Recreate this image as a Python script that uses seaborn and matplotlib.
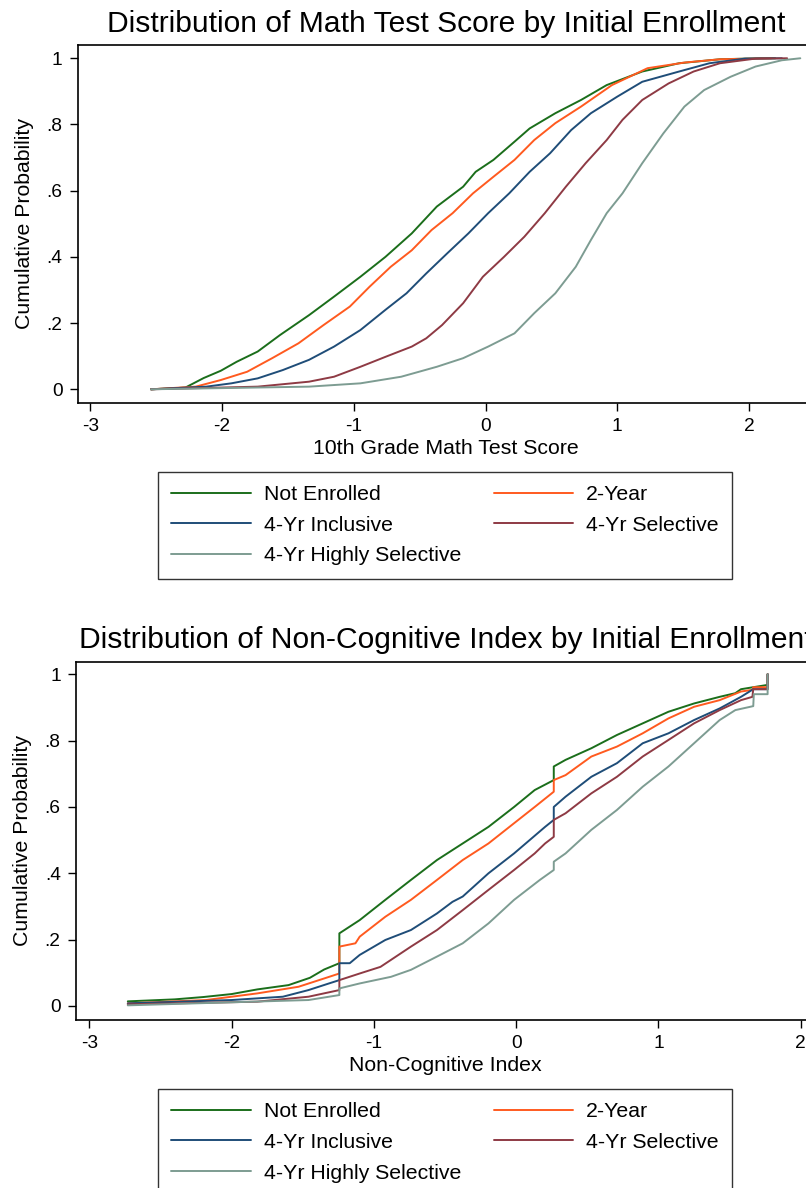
import matplotlib
matplotlib.use("Agg")
import matplotlib.pyplot as plt
import seaborn as sns

# ---- Math test score ECDFs (x = score, y = cumulative probability) ----
math_x_not_enrolled = [-2.54, -2.28, -2.14, -2.01, -1.89, -1.73, -1.56, -1.34, -1.15, -0.95, -0.76,
                       -0.56, -0.37, -0.17, -0.075, 0.06, 0.22, 0.335, 0.53, 0.725, 0.92, 1.19,
                       1.47, 1.78, 2.09, 2.2]
math_y_not_enrolled = [0, 0.005, 0.034, 0.056, 0.083, 0.114, 0.164, 0.224, 0.280, 0.340, 0.40,
                       0.471, 0.552, 0.612, 0.657, 0.693, 0.748, 0.788, 0.834, 0.874, 0.919, 0.96,
                       0.985, 0.997, 1.0, 1.0]
math_x_two_year = [-2.54, -2.20, -2.01, -1.81, -1.62, -1.42, -1.23, -1.03, -0.88, -0.72, -0.56,
                   -0.41, -0.25, -0.095, 0.06, 0.22, 0.37, 0.53, 0.725, 0.96, 1.23, 1.51, 1.78, 2.17]
math_y_two_year = [0, 0.008, 0.028, 0.053, 0.094, 0.139, 0.194, 0.25, 0.31, 0.37, 0.42,
                   0.481, 0.532, 0.592, 0.642, 0.693, 0.753, 0.804, 0.854, 0.919, 0.97, 0.987, 0.997, 1.0]
math_x_inclusive = [-2.54, -2.12, -1.93, -1.73, -1.54, -1.34, -1.15, -0.95, -0.76, -0.60, -0.45,
                    -0.29, -0.13, 0.02, 0.18, 0.335, 0.49, 0.65, 0.80, 1.0, 1.19, 1.47, 1.70, 1.97, 2.25]
math_y_inclusive = [0, 0.008, 0.018, 0.033, 0.058, 0.089, 0.129, 0.179, 0.24, 0.29, 0.35,
                    0.411, 0.471, 0.532, 0.592, 0.657, 0.713, 0.783, 0.834, 0.884, 0.929, 0.96, 0.985, 0.999, 1.0]
math_x_selective = [-2.54, -1.73, -1.34, -1.15, -0.95, -0.76, -0.56, -0.45, -0.33, -0.17, -0.02,
                    0.14, 0.295, 0.45, 0.61, 0.76, 0.92, 1.04, 1.19, 1.39, 1.58, 1.78, 2.05, 2.29]
math_y_selective = [0, 0.008, 0.023, 0.038, 0.068, 0.098, 0.129, 0.154, 0.194, 0.26, 0.34,
                    0.40, 0.461, 0.532, 0.612, 0.683, 0.753, 0.814, 0.874, 0.924, 0.96, 0.985, 0.999, 1.0]
math_x_highly = [-2.54, -1.34, -0.95, -0.64, -0.37, -0.17, 0.02, 0.22, 0.37, 0.53, 0.685,
                 0.80, 0.92, 1.04, 1.19, 1.35, 1.51, 1.66, 1.86, 2.05, 2.25, 2.39]
math_y_highly = [0, 0.008, 0.018, 0.038, 0.068, 0.094, 0.129, 0.169, 0.23, 0.29, 0.37,
                 0.451, 0.532, 0.592, 0.683, 0.773, 0.854, 0.904, 0.944, 0.975, 0.994, 1.0]

# ---- Non-cognitive index ECDFs ----
noncog_x_not_enrolled = [-2.73, -2.4, -2.2, -2.0, -1.82, -1.6, -1.45, -1.35, -1.243, -1.243, -1.10,
                         -0.92, -0.74, -0.557, -0.376, -0.195, -0.015, 0.13, 0.264, 0.264, 0.347,
                         0.528, 0.708, 0.889, 1.07, 1.25, 1.43, 1.54, 1.58, 1.666, 1.767, 1.767]
noncog_y_not_enrolled = [0.014, 0.02, 0.027, 0.036, 0.05, 0.063, 0.085, 0.11, 0.129, 0.219, 0.259,
                         0.32, 0.38, 0.44, 0.49, 0.54, 0.60, 0.651, 0.681, 0.722, 0.742,
                         0.777, 0.817, 0.852, 0.887, 0.912, 0.932, 0.943, 0.955, 0.961, 0.968, 1.0]
noncog_x_two_year = [-2.73, -2.18, -1.82, -1.53, -1.35, -1.243, -1.243, -1.13, -1.10, -0.92, -0.74,
                     -0.557, -0.376, -0.195, -0.015, 0.13, 0.264, 0.264, 0.347, 0.528, 0.708,
                     0.889, 1.07, 1.25, 1.43, 1.58, 1.66, 1.666, 1.767, 1.767]
noncog_y_two_year = [0.008, 0.018, 0.038, 0.058, 0.083, 0.098, 0.179, 0.189, 0.209, 0.269, 0.32,
                     0.38, 0.44, 0.49, 0.551, 0.60, 0.646, 0.681, 0.696, 0.752, 0.782,
                     0.822, 0.867, 0.902, 0.922, 0.948, 0.953, 0.961, 0.961, 1.0]
noncog_x_inclusive = [-2.73, -2.0, -1.64, -1.46, -1.316, -1.243, -1.243, -1.17, -1.10, -0.92, -0.74,
                      -0.557, -0.448, -0.376, -0.195, -0.015, 0.094, 0.203, 0.264, 0.264, 0.347,
                      0.528, 0.708, 0.889, 1.07, 1.25, 1.43, 1.58, 1.666, 1.767, 1.767]
noncog_y_inclusive = [0.008, 0.018, 0.028, 0.048, 0.068, 0.078, 0.129, 0.129, 0.154, 0.199, 0.229,
                      0.279, 0.314, 0.33, 0.40, 0.46, 0.50, 0.54, 0.561, 0.60, 0.631,
                      0.691, 0.732, 0.792, 0.822, 0.862, 0.897, 0.932, 0.955, 0.955, 1.0]
noncog_x_selective = [-2.73, -1.82, -1.46, -1.243, -1.243, -1.10, -0.954, -0.74, -0.557, -0.376,
                      -0.195, -0.015, 0.13, 0.203, 0.264, 0.264, 0.347, 0.528, 0.708, 0.889,
                      1.07, 1.25, 1.43, 1.58, 1.66, 1.666, 1.767, 1.767]
noncog_y_selective = [0.005, 0.013, 0.028, 0.048, 0.078, 0.098, 0.118, 0.179, 0.229, 0.289,
                      0.35, 0.41, 0.46, 0.49, 0.51, 0.561, 0.581, 0.641, 0.691, 0.752,
                      0.802, 0.852, 0.892, 0.922, 0.932, 0.955, 0.955, 1.0]
noncog_x_highly = [-2.73, -1.46, -1.243, -1.243, -1.10, -0.88, -0.74, -0.557, -0.376, -0.195,
                   -0.015, 0.166, 0.264, 0.264, 0.347, 0.528, 0.708, 0.889, 1.07, 1.25, 1.43,
                   1.54, 1.666, 1.67, 1.767, 1.767]
noncog_y_highly = [0.002, 0.018, 0.033, 0.053, 0.068, 0.088, 0.109, 0.149, 0.189, 0.249,
                   0.32, 0.38, 0.41, 0.435, 0.46, 0.531, 0.591, 0.661, 0.722, 0.792, 0.862,
                   0.892, 0.904, 0.94, 0.94, 1.0]

group_labels = ["Not Enrolled", "2-Year", "4-Yr Inclusive", "4-Yr Selective", "4-Yr Highly Selective"]
group_colors = ["#1b6e1b", "#ff5a1f", "#1f4d78", "#8e3a44", "#7d9c92"]

x_ticks = [-3, -2, -1, 0, 1, 2]
y_ticks = [0, 0.2, 0.4, 0.6, 0.8, 1.0]
y_tick_labels = ["0", ".2", ".4", ".6", ".8", "1"]

sns.set_theme(style="ticks")
plt.rcParams["font.family"] = ["Liberation Sans", "DejaVu Sans"]

W, H = 806, 1188
fig = plt.figure(figsize=(W / 100, H / 100), dpi=100)

TICK_FS = 13.8
LABEL_FS = 15.3
TITLE_FS = 21.6
LEGEND_FS = 15.3


def px_rect(left, top, right, bottom):
    return [left / W, 1 - bottom / H, (right - left) / W, (bottom - top) / H]


def draw_panel(rect, series, xlim, ylim, title, xlabel, title_y, legend_top):
    ax = fig.add_axes(px_rect(*rect))
    for (xs, ys), name, col in zip(series, group_labels, group_colors):
        sns.lineplot(x=xs, y=ys, ax=ax, color=col, linewidth=1.4, estimator=None,
                     sort=False, label=name, legend=False)
    ax.set_xlim(*xlim)
    ax.set_ylim(*ylim)
    ax.set_xticks(x_ticks)
    ax.set_xticklabels([str(t) for t in x_ticks])
    ax.set_yticks(y_ticks)
    ax.set_yticklabels(y_tick_labels)
    ax.tick_params(axis="both", direction="out", length=6, width=1.0, color="black",
                   labelsize=TICK_FS, pad=5, labelcolor="black")
    for s in ax.spines.values():
        s.set_visible(True)
        s.set_color("black")
        s.set_linewidth(1.2)
    ax.set_xlabel(xlabel, fontsize=LABEL_FS, labelpad=3, color="black")
    ax.set_ylabel("Cumulative Probability", fontsize=LABEL_FS, labelpad=9, color="black")
    ax.grid(False)
    cx = (rect[0] + rect[2]) / 2 / W
    fig.text(cx, 1 - title_y / H, title, ha="center", va="baseline", fontsize=TITLE_FS,
             color="black")

    handles = ax.get_lines()
    order = [0, 2, 4, 1, 3]
    leg = fig.legend([handles[i] for i in order], [group_labels[i] for i in order],
                     loc="upper left", ncol=2, mode="expand",
                     bbox_to_anchor=(158 / W, 1 - legend_top / H, (732 - 158) / W, 0.0),
                     borderaxespad=0, fontsize=LEGEND_FS, handlelength=3.76, handletextpad=0.6,
                     labelspacing=0.55, borderpad=0.62, columnspacing=2.0, frameon=True,
                     fancybox=False)
    leg.get_frame().set_edgecolor("black")
    leg.get_frame().set_linewidth(1.0)
    for t in leg.get_texts():
        t.set_color("black")
    return ax


draw_panel((77.7, 44.7, 814, 402.7),
           [(math_x_not_enrolled, math_y_not_enrolled), (math_x_two_year, math_y_two_year),
            (math_x_inclusive, math_y_inclusive), (math_x_selective, math_y_selective),
            (math_x_highly, math_y_highly)],
           (-3.0965, 2.494), (-0.0405, 1.041),
           "Distribution of Math Test Score by Initial Enrollment",
           "10th Grade Math Test Score", 31.7, 471.8)

draw_panel((76, 662, 815, 1019.7),
           [(noncog_x_not_enrolled, noncog_y_not_enrolled), (noncog_x_two_year, noncog_y_two_year),
            (noncog_x_inclusive, noncog_y_inclusive), (noncog_x_selective, noncog_y_selective),
            (noncog_x_highly, noncog_y_highly)],
           (-3.094, 2.100), (-0.0413, 1.037),
           "Distribution of Non-Cognitive Index by Initial Enrollment",
           "Non-Cognitive Index", 648, 1089)

fig.savefig("out.png", dpi=100, facecolor="white")
